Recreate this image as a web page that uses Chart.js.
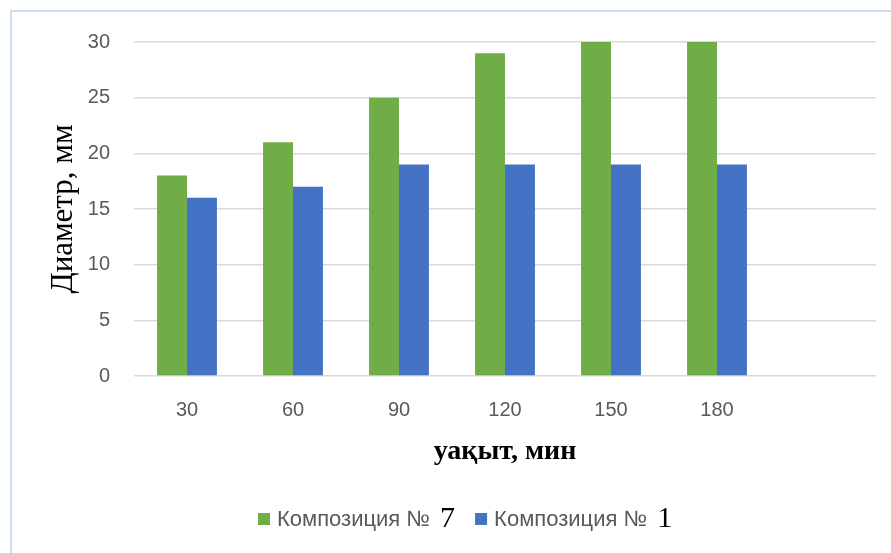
<!DOCTYPE html>
<html>
<head>
<meta charset="utf-8">
<script src="https://cdn.jsdelivr.net/npm/chart.js@4"></script>
<style>
  html, body { margin: 0; padding: 0; background: #fff; }
  #wrap { width: 891px; height: 553px; position: relative; }
</style>
</head>
<body>
<div id="wrap"><canvas id="graficoDiametro"></canvas></div>
<script>
// время, мин (последняя категория пустая)
const categories = ['30', '60', '90', '120', '150', '180', ''];
const comp7 = [18, 21, 25, 29, 30, 30, null];
const comp1 = [16, 17, 19, 19, 19, 19, null];
const seriesNames = ['Композиция № 7', 'Композиция № 1'];
const seriesColors = ['#70ad47', '#4472c4'];
const yTicks = [0, 5, 10, 15, 20, 25, 30];

const sansFont = "'Liberation Sans', Arial, sans-serif";
const serifFont = "'Liberation Serif', 'Times New Roman', serif";

// рамка вокруг диаграммы и легенда с номером композиции другим шрифтом
const frameAndLegend = {
    id: 'frameAndLegend',
    beforeDraw(chart) {
        const c = chart.ctx;
        c.save();
        c.strokeStyle = '#c9dcf2';
        c.lineWidth = 2;
        c.strokeRect(11, 11, 900, 600);
        c.restore();
    },
    afterDraw(chart) {
        const c = chart.ctx;
        const y = 519;
        let x = 258;
        c.save();
        c.textBaseline = 'middle';
        chart.data.datasets.forEach(function (ds, i) {
            const name = ds.label;
            const cut = name.lastIndexOf(' ');
            const head = name.slice(0, cut);
            const num = name.slice(cut + 1);
            c.fillStyle = ds.backgroundColor;
            c.fillRect(x, y - 6, 12, 12);
            x += 19;
            c.font = '22px ' + sansFont;
            c.fillStyle = '#595959';
            c.fillText(head, x, y + 1);
            x += c.measureText(head + ' ').width + 4;
            c.font = '30px ' + serifFont;
            c.fillStyle = '#000';
            c.fillText(num, x, y);
            x += c.measureText(num).width + 20;
        });
        c.restore();
    }
};

const ctx = document.getElementById('graficoDiametro').getContext('2d');

const chart = new Chart(ctx, {
    type: 'bar',
    data: {
        labels: categories,
        datasets: [{
            label: seriesNames[0],
            data: comp7,
            backgroundColor: seriesColors[0],
            categoryPercentage: 0.565,
            barPercentage: 1
        }, {
            label: seriesNames[1],
            data: comp1,
            backgroundColor: seriesColors[1],
            categoryPercentage: 0.565,
            barPercentage: 1
        }]
    },
    options: {
        responsive: true,
        maintainAspectRatio: false,
        animation: false,
        layout: {
            padding: { left: 10, top: 42, right: 15, bottom: 77 }
        },
        plugins: {
            legend: { display: false },
            tooltip: { enabled: false }
        },
        scales: {
            x: {
                afterFit: function (scale) { scale.height = 100; },
                grid: { display: false, drawTicks: false },
                border: { display: false },
                ticks: {
                    padding: 22,
                    color: '#595959',
                    font: { family: sansFont, size: 20 }
                },
                title: {
                    display: true,
                    text: 'уақыт, мин',
                    color: '#000',
                    font: { family: serifFont, size: 28, weight: 'bold' },
                    padding: { top: 0, bottom: 7 }
                }
            },
            y: {
                min: 0,
                max: 30,
                afterFit: function (scale) { scale.width = 124; },
                afterBuildTicks: function (scale) {
                    scale.ticks = yTicks.map(function (v) { return { value: v }; });
                },
                grid: { color: '#d9d9d9', lineWidth: 1.5, drawTicks: false },
                border: { display: false },
                ticks: {
                    padding: 24,
                    color: '#595959',
                    font: { family: sansFont, size: 20 }
                },
                title: {
                    display: true,
                    text: 'Диаметр, мм',
                    color: '#000',
                    font: { family: serifFont, size: 31 },
                    padding: { top: 35, bottom: 0 }
                }
            }
        }
    },
    plugins: [frameAndLegend]
});
</script>
</body>
</html>
